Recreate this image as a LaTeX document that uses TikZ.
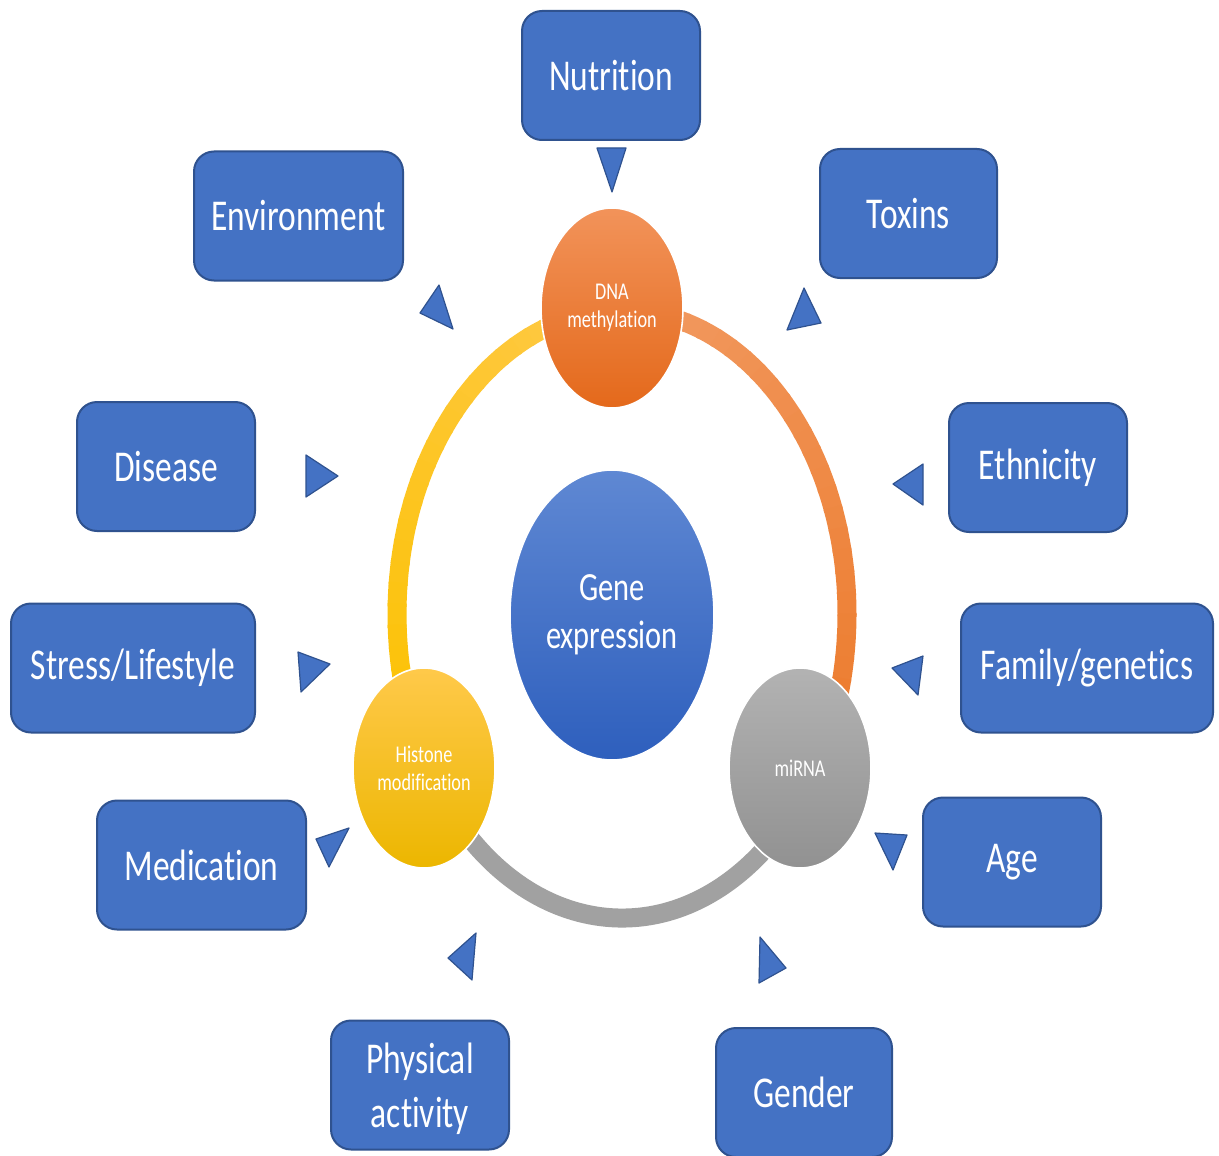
\documentclass[tikz,border=0pt]{standalone}
\usepackage{fontspec}
\setmainfont{Carlito}[FakeStretch=0.76, Ligatures=NoCommon]
\usetikzlibrary{shapes.geometric}

\definecolor{boxfill}{HTML}{4472C4}
\definecolor{boxline}{HTML}{2F528F}
\definecolor{orTop}{HTML}{F29B63}
\definecolor{orBot}{HTML}{EC7A2B}
\definecolor{yeTop}{HTML}{FFC94A}
\definecolor{yeBot}{HTML}{FBC200}
\definecolor{grRing}{HTML}{A1A1A1}
\definecolor{geneTop}{HTML}{5F88D3}
\definecolor{geneBot}{HTML}{2E5FBD}
\definecolor{dnaTop}{HTML}{F2935A}
\definecolor{dnaMid}{HTML}{F07D31}
\definecolor{dnaBot}{HTML}{E4691B}

\tikzset{
  factorbox/.style={draw=boxline, fill=boxfill, line width=1pt, rounded corners=10pt,
    minimum height=64.5pt, inner sep=0pt, text=white, align=center,
    font=\fontsize{22}{27}\selectfont},
  pointer/.style={draw=boxline, fill=boxfill, line width=0.6pt, line join=round},
  hub/.style={ellipse, draw=white, line width=0.8pt, inner sep=0pt, text=white,
    align=center, minimum width=71pt, minimum height=100pt,
    font=\fontsize{12}{14}\selectfont},
  ringseg/.style={line width=9.5pt, line cap=butt}
}

\begin{document}
\begin{tikzpicture}[x=0.5pt, y=-0.5pt]
\useasboundingbox (0,0) rectangle (1219,1155);
\fill[white] (0,0) rectangle (1219,1155);

% ring: centre (622,614), radii 225 x 304 (pixel units)
% right arc, DNA methylation -> miRNA
\foreach \i in {0,...,29}{
  \pgfmathsetmacro\ta{90-\i*(122.6/30)}
  \pgfmathsetmacro\tb{\ta-(122.6/30)-0.6}
  \pgfmathtruncatemacro\pc{100-\i*100/29}
  \draw[ringseg, color=orTop!\pc!orBot]
    ({622+225*cos(\ta)},{614-304*sin(\ta)})
    arc[start angle=\ta, end angle=\tb, x radius=112.5pt, y radius=152pt];
}
% left arc, DNA methylation -> Histone modification
\foreach \i in {0,...,29}{
  \pgfmathsetmacro\ta{90+\i*(120/30)}
  \pgfmathsetmacro\tb{\ta+(120/30)+0.6}
  \pgfmathtruncatemacro\pc{100-\i*100/29}
  \draw[ringseg, color=yeTop!\pc!yeBot]
    ({622+225*cos(\ta)},{614-304*sin(\ta)})
    arc[start angle=\ta, end angle=\tb, x radius=112.5pt, y radius=152pt];
}
% bottom arc, Histone modification -> miRNA
\draw[ringseg, color=grRing]
  ({622+225*cos(210)},{614-304*sin(210)})
  arc[start angle=210, end angle=327.4, x radius=112.5pt, y radius=152pt];

% hubs
\node[hub, top color=dnaTop, middle color=dnaMid, bottom color=dnaBot]
  (dna) at (612,308) {DNA\\methylation};
\node[hub, top color=yeTop, middle color=yeBot, bottom color=yeBot!94!black]
  (histone) at (424,768) {Histone\\modification};
\node[hub, top color=black!30, bottom color=black!43]
  (mirna) at (800,768) {miRNA};
\node[ellipse, draw=white, line width=0.8pt, inner sep=0pt, text=white, align=center,
  minimum width=102pt, minimum height=145pt, top color=geneTop,
  bottom color=geneBot, font=\fontsize{20}{24}\selectfont]
  (gene) at (612,615) {Gene\\expression};

% factor boxes
\node[factorbox, minimum width=89pt]   (nutrition) at (611,75.5)   {Nutrition};
\node[factorbox, minimum width=104.5pt](environment) at (298.5,216) {Environment};
\node[factorbox, minimum width=88.5pt] (toxins) at (908.5,213.5)   {Toxins};
\node[factorbox, minimum width=89pt]   (disease) at (166,466.5)    {Disease};
\node[factorbox, minimum width=89pt]   (ethnicity) at (1038,467.5) {Ethnicity};
\node[factorbox, minimum width=122pt]  (stress) at (133,668)       {Stress/Lifestyle};
\node[factorbox, minimum width=126pt]  (family) at (1087,668)      {Family/genetics};
\node[factorbox, minimum width=104.5pt](medication) at (201.5,865) {Medication};
\node[factorbox, minimum width=89pt]   (age) at (1012,862)         {Age};
\node[factorbox, minimum width=89pt]   (physical) at (420,1085)    {};
\node[text=white, align=center, font=\fontsize{22}{27}\selectfont]
  (physicaltext) at (420,1089) {Physical\\activity};
\node[factorbox, minimum width=88pt]   (gender) at (804,1092.5)    {Gender};

% pointers toward the ring
\draw[pointer] (597,148) -- (626,148) -- (612,192) -- cycle;   % nutrition
\draw[pointer] (420,313) -- (439,285) -- (453,329) -- cycle;   % environment
\draw[pointer] (804,288) -- (821,323) -- (787,330) -- cycle;   % toxins
\draw[pointer] (306,455) -- (338,476) -- (306,497) -- cycle;   % disease
\draw[pointer] (923,464) -- (923,505) -- (893,484) -- cycle;   % ethnicity
\draw[pointer] (298,652) -- (330,664) -- (301,692) -- cycle;   % stress
\draw[pointer] (892,668) -- (923,656) -- (918,695) -- cycle;   % family
\draw[pointer] (316,839) -- (349,828) -- (329,867) -- cycle;   % medication
\draw[pointer] (875,833) -- (907,835) -- (893,870) -- cycle;   % age
\draw[pointer] (448,958) -- (476,933) -- (472,980) -- cycle;   % physical activity
\draw[pointer] (760,937) -- (786,968) -- (759,983) -- cycle;   % gender
\end{tikzpicture}
\end{document}
